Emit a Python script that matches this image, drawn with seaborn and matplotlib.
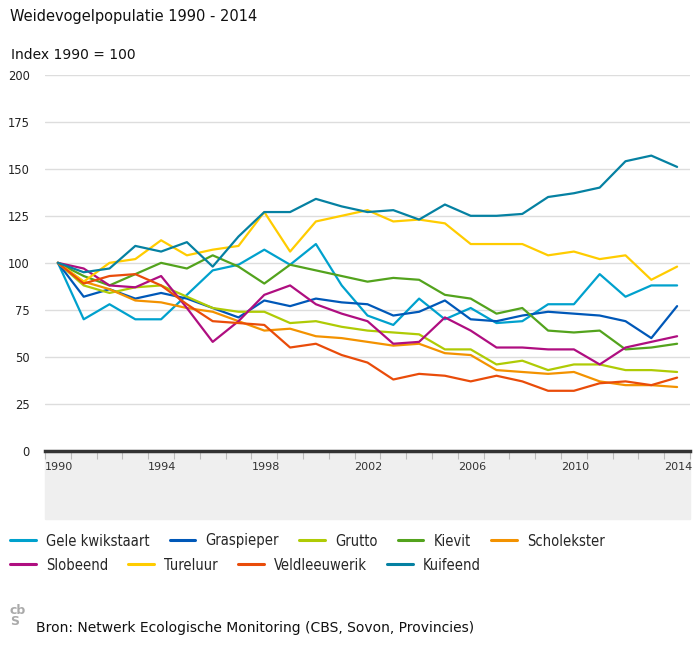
import pandas as pd
import seaborn as sns
import matplotlib.pyplot as plt
from matplotlib.patches import Rectangle
from matplotlib.font_manager import FontProperties

# Data (index 1990 = 100)
years = list(range(1990, 2015))
gele_kwikstaart = [100, 70, 78, 70, 70, 83, 96, 99, 107, 99, 110, 88, 72, 67, 81, 70, 76, 68, 69, 78, 78, 94, 82, 88, 88]
graspieper = [100, 82, 86, 81, 84, 81, 76, 71, 80, 77, 81, 79, 78, 72, 74, 80, 70, 69, 72, 74, 73, 72, 69, 60, 77]
grutto = [100, 88, 84, 87, 88, 82, 76, 74, 74, 68, 69, 66, 64, 63, 62, 54, 54, 46, 48, 43, 46, 46, 43, 43, 42]
kievit = [100, 93, 88, 94, 100, 97, 104, 98, 89, 99, 96, 93, 90, 92, 91, 83, 81, 73, 76, 64, 63, 64, 54, 55, 57]
scholekster = [100, 90, 86, 80, 79, 76, 74, 69, 64, 65, 61, 60, 58, 56, 57, 52, 51, 43, 42, 41, 42, 37, 35, 35, 34]
slobeend = [100, 97, 88, 87, 93, 76, 58, 69, 83, 88, 78, 73, 69, 57, 58, 71, 64, 55, 55, 54, 54, 46, 55, 58, 61]
tureluur = [100, 90, 100, 102, 112, 104, 107, 109, 127, 106, 122, 125, 128, 122, 123, 121, 110, 110, 110, 104, 106, 102, 104, 91, 98]
veldleeuwerik = [100, 89, 93, 94, 88, 78, 69, 68, 67, 55, 57, 51, 47, 38, 41, 40, 37, 40, 37, 32, 32, 36, 37, 35, 39]
kuifeend = [100, 95, 97, 109, 106, 111, 98, 114, 127, 127, 134, 130, 127, 128, 123, 131, 125, 125, 126, 135, 137, 140, 154, 157, 151]

species = ["Gele kwikstaart", "Graspieper", "Grutto", "Kievit", "Scholekster",
           "Slobeend", "Tureluur", "Veldleeuwerik", "Kuifeend"]
series = [gele_kwikstaart, graspieper, grutto, kievit, scholekster,
          slobeend, tureluur, veldleeuwerik, kuifeend]
colors = ["#00a1cd", "#0058b8", "#afcb05", "#53a31d", "#f39200",
          "#af0e80", "#ffcc00", "#e94c0a", "#0581a2"]

df = pd.DataFrame([(s, y, v) for s, vals in zip(species, series) for y, v in zip(years, vals)],
                  columns=["soort", "jaar", "index"])

sns.set_theme(style="white")
plt.rcParams["font.family"] = ["DejaVu Sans"]

W, H = 700, 653
fig = plt.figure(figsize=(W / 100, H / 100), dpi=100)
ax = fig.add_axes([45 / W, 1 - 451 / H, 645 / W, (451 - 74.7) / H])

sns.lineplot(data=df, x="jaar", y="index", hue="soort", hue_order=species,
             palette=colors, linewidth=1.6, ax=ax, zorder=3)

handles, labels = ax.get_legend_handles_labels()
ax.get_legend().remove()

# axes styling
ax.set_xlim(1989.5, 2014.5)
ax.set_ylim(0, 200)
ax.set_yticks(range(0, 201, 25))
ax.set_yticklabels([str(v) for v in range(0, 201, 25)], fontsize=8.3, color="#222222")
for v in range(25, 201, 25):
    ax.axhline(v, color="#dddddd", linewidth=1, zorder=1)

bounds = [1989.5 + k for k in range(26)]
ax.set_xticks(bounds)
ax.set_xticklabels([str(int(b + 0.5)) if (k % 4 == 0) else "" for k, b in enumerate(bounds)],
                   fontsize=8, color="#333333", ha="left")
ax.tick_params(axis="x", length=6, color="#bbbbbb", width=0.8, pad=2, bottom=True)
ax.tick_params(axis="y", length=0, pad=11)

for side in ["top", "right", "left"]:
    ax.spines[side].set_visible(False)
ax.spines["bottom"].set_color("#333333")
ax.spines["bottom"].set_linewidth(2.5)
ax.spines["bottom"].set_zorder(4)
ax.set_xlabel("")
ax.set_ylabel("")

# grey band under the x axis
fig.patches.append(Rectangle((45 / W, 1 - 519 / H), 645 / W, 68 / H,
                             transform=fig.transFigure, color="#efefef", zorder=-1))

# titles
fig.text(10 / W, 1 - 17 / H, "Weidevogelpopulatie 1990 - 2014", fontsize=10.5,
         va="center", ha="left", color="#111111")
fig.text(11 / W, 1 - 55 / H, "Index 1990 = 100", fontsize=10,
         va="center", ha="left", color="#111111")

# legend in two flowing rows
lp = FontProperties(family="DejaVu Sans", stretch="condensed", size=10.5)
for row, (hs, ls, ypix) in enumerate([(handles[:5], labels[:5], 541),
                                      (handles[5:], labels[5:], 565)]):
    for h in hs:
        h.set_linewidth(2.2)
    fig.legend(hs, ls, loc="center left", bbox_to_anchor=(10 / W, 1 - ypix / H),
               bbox_transform=fig.transFigure, ncol=len(hs), frameon=False,
               prop=lp, borderpad=0, borderaxespad=0, handlelength=1.75,
               handletextpad=0.7, columnspacing=1.4)

# source line with a small logo stand-in
fig.text(10 / W, 1 - 616 / H, "cb\nS", fontsize=9, color="#aaaaaa", fontweight="bold",
         va="center", ha="left", linespacing=0.8)
fig.text(36 / W, 1 - 628 / H, "Bron: Netwerk Ecologische Monitoring (CBS, Sovon, Provincies)",
         fontsize=10, va="center", ha="left", color="#111111")

fig.savefig("out.png", dpi=100)
